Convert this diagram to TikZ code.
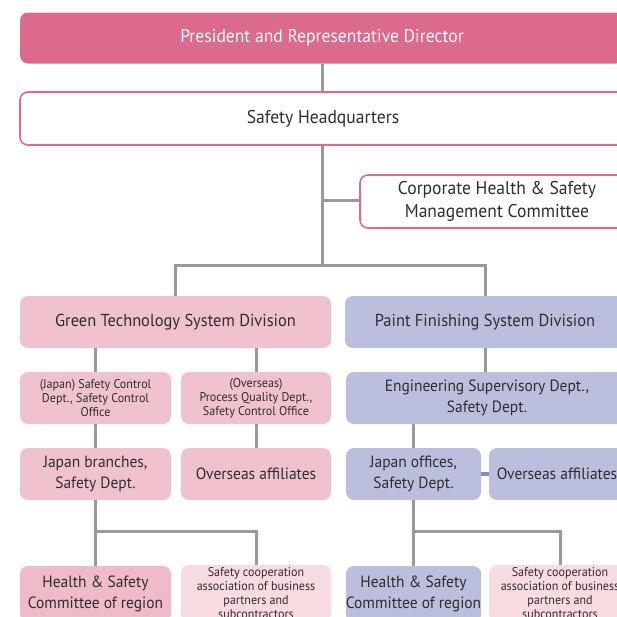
\documentclass[tikz,border=0pt]{standalone}
\usepackage{fontspec}
\setmainfont{PT Sans}[FakeStretch=0.95]
\definecolor{presfill}{HTML}{DC6A8C}
\definecolor{hqdraw}{HTML}{DE6A8E}
\definecolor{pinkA}{HTML}{F0C2CD}
\definecolor{pinkB}{HTML}{EFBBC8}
\definecolor{pinkC}{HTML}{F8DAE1}
\definecolor{blueA}{HTML}{BBBEDD}
\definecolor{linegray}{HTML}{9A9A9C}
\definecolor{linkblue}{HTML}{8C88C6}
\definecolor{txt}{HTML}{2E2E2E}
\tikzset{
  box/.style={rounded corners=8pt, minimum height=52pt, align=center, inner sep=0pt, text=txt, font=\fontsize{18.5}{23.5}\selectfont},
  divbox/.style={box, font=\fontsize{17.3}{22}\selectfont},
  midbox/.style={box, font=\fontsize{16.3}{21}\selectfont},
  smallbox/.style={box, font=\fontsize{12.7}{13.8}\selectfont},
  pinkbox/.style={fill=pinkA, draw=none},
  bluebox/.style={fill=blueA, draw=none},
  link/.style={draw=linegray, line width=3pt},
  bluelink/.style={draw=linkblue, line width=4pt}
}
\begin{document}
\begin{tikzpicture}[x=1pt,y=-1pt]
\clip (0,0) rectangle (617,616);
\node[box, fill=presfill, text=white, minimum width=604pt, minimum height=51pt] (pres) at (322,38) {President and Representative Director};
\node[box, fill=white, draw=hqdraw, line width=1.6pt, minimum width=606pt, minimum height=53pt] (hq) at (323,118.5) {Safety Headquarters};
\node[box, fill=white, draw=hqdraw, line width=1.6pt, minimum width=274pt, minimum height=53pt] (corp) at (497,201.5) {Corporate Health \& Safety\\Management Committee};
\node[divbox, pinkbox, minimum width=311pt] (gt) at (175.5,322) {Green Technology System Division};
\node[divbox, bluebox, minimum width=280pt] (pf) at (485,322) {Paint Finishing System Division};
\node[smallbox, pinkbox, minimum width=151pt] (jsc) at (95.5,398) {(Japan) Safety Control\\Dept., Safety Control\\Office};
\node[smallbox, pinkbox, minimum width=150pt] (osc) at (256,398) {(Overseas)\\Process Quality Dept.,\\Safety Control Office};
\node[midbox, bluebox, minimum width=282pt] (eng) at (487,398) {Engineering Supervisory Dept.,\\Safety Dept.};
\node[midbox, pinkbox, minimum width=151pt] (jb) at (95.5,474) {Japan branches,\\Safety Dept.};
\node[midbox, pinkbox, minimum width=150pt] (oa) at (256,474) {Overseas affiliates};
\node[midbox, bluebox, minimum width=135pt] (jo) at (413.5,474) {Japan offices,\\Safety Dept.};
\node[midbox, bluebox, minimum width=136pt] (oa2) at (557,474) {Overseas affiliates};
\node[midbox, fill=pinkB, minimum width=151pt, minimum height=56pt] (hsl) at (95.5,594) {Health \& Safety\\Committee of region};
\node[smallbox, fill=pinkC, minimum width=150pt, minimum height=56pt] (scl) at (256,593) {Safety cooperation\\association of business\\partners and\\subcontractors};
\node[midbox, bluebox, minimum width=135pt, minimum height=56pt] (hsr) at (413.5,594) {Health \& Safety\\Committee of region};
\node[smallbox, fill=pinkC, minimum width=142pt, minimum height=56pt] (scr) at (560,593) {Safety cooperation\\association of business\\partners and\\subcontractors};
\coordinate (spine) at (322,265);
\coordinate (corpj) at (322,200);
\coordinate (lj) at (95.5,531);
\coordinate (rj) at (413.5,531);
\draw[link] (pres.south -| spine) -- (hq.north -| spine);
\draw[link] (hq.south -| spine) -- (spine);
\draw[link] (corpj) -- (corpj -| corp.west);
\draw[link] (gt.north) |- (spine) -| (pf.north);
\draw[link] (jsc.north) -- (jsc.north |- gt.south);
\draw[link] (osc.north) -- (osc.north |- gt.south);
\draw[link] (pf.south) -- (pf.south |- eng.north);
\draw[link] (jsc.south) -- (jb.north);
\draw[link] (osc.south) -- (oa.north);
\draw[link] (jo.north) -- (jo.north |- eng.south);
\draw[bluelink] (jo.east) -- (oa2.west);
\draw[link] (jb.south) -- (hsl.north);
\draw[link] (lj) -| (scl.north);
\draw[link] (jo.south) -- (hsr.north);
\draw[link] (rj) -| (scr.north);
\end{tikzpicture}
\end{document}
